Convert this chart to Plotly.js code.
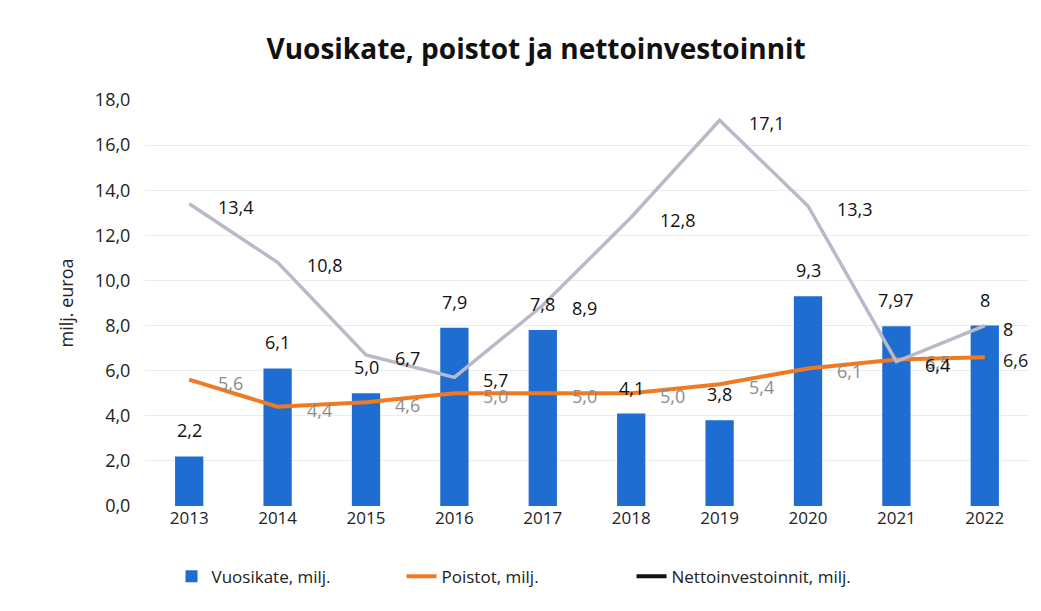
<!DOCTYPE html>
<html><head><meta charset="utf-8">
<script src="https://cdn.plot.ly/plotly-3.0.1.min.js"></script>
<style>html,body{margin:0;padding:0;background:#fff}#chart{width:1041px;height:611px}</style>
</head><body><div id="chart"></div>
<script>
const years = ['2013','2014','2015','2016','2017','2018','2019','2020','2021','2022'];
const vuosikate = [2.2, 6.1, 5.0, 7.9, 7.8, 4.1, 3.8, 9.3, 7.97, 8];
const vuosikateLabels = ['2,2','6,1','5,0','7,9','7,8','4,1','3,8','9,3','7,97','8'];
const poistot = [5.6, 4.4, 4.6, 5.0, 5.0, 5.0, 5.4, 6.1, 6.5, 6.6];
const poistotLabels = ['5,6','4,4','4,6','5,0','5,0','5,0','5,4','6,1','6,5','6,6'];
const netto = [13.4, 10.8, 6.7, 5.7, 8.9, 12.8, 17.1, 13.3, 6.4, 8];
const nettoLabels = ['13,4','10,8','6,7','5,7','8,9','12,8','17,1','13,3','6,4','8'];
const yTicks = [0,2,4,6,8,10,12,14,16,18];

const font = "Open Sans, Noto Sans, sans-serif";
const traces = [
  {type:'bar', x:years, y:vuosikate, name:'Vuosikate, milj.', marker:{color:'#1f6dd0'},
   width:0.32},
  {type:'scatter', mode:'lines', x:years, y:poistot, name:'Poistot, milj.',
   line:{color:'#f07a22',width:4}, cliponaxis:false},
  {type:'scatter', mode:'lines', x:years, y:netto, showlegend:false,
   line:{color:'#bab8c9',width:3.5}, cliponaxis:false},
  {type:'scatter', mode:'lines', x:years, y:netto.map(()=>null), name:'Nettoinvestoinnit, milj.',
   line:{color:'#111',width:4}}
];
const annotations = [];
const last = years.length - 1;
years.forEach((yr,i)=>{
  const sx = i === last ? 16 : 27;
  annotations.push({xref:'x', yref:'y', x:i, y:vuosikate[i], text:vuosikateLabels[i], showarrow:false,
    xanchor:'center', yanchor:'bottom', yshift:12, font:{size:18,color:'#111',family:font}});
  annotations.push({xref:'x', yref:'y', x:i, y:poistot[i], text:poistotLabels[i], showarrow:false,
    xanchor:'left', yanchor:'middle', xshift:sx, yshift:-3,
    font:{size:18,color: i===last ? '#222' : '#8c8c8c',family:font}});
  annotations.push({xref:'x', yref:'y', x:i, y:netto[i], text:nettoLabels[i], showarrow:false,
    xanchor:'left', yanchor:'middle', xshift:sx, yshift:-3,
    font:{size:18,color:'#111',family:font}});
});
const layout = {
  width:1041, height:611,
  margin:{l:145, r:12, t:100, b:105},
  paper_bgcolor:'#fff', plot_bgcolor:'#fff',
  separators:', ',
  annotations: annotations,
  title:{text:'<b>Vuosikate, poistot ja nettoinvestoinnit</b>', x:0.515, xanchor:'center', y:0.935,
    font:{size:28,color:'#111',family:font}},
  xaxis:{type:'category', categoryarray:years, range:[-0.5, years.length-0.5],
    tickfont:{size:17,color:'#222',family:font}, showgrid:false,
    showline:false, zeroline:false, ticks:''},
  yaxis:{range:[0,18], tickvals:yTicks, tickformat:'.1f', tickfont:{size:18,color:'#222',family:font},
    gridcolor:'#ececec', zeroline:false, showline:false, ticklen:10, ticks:'outside', tickcolor:'rgba(0,0,0,0)',
    title:{text:'milj. euroa', font:{size:18,color:'#222',family:font}, standoff:16}},
  legend:{orientation:'h', x:0.03, xanchor:'left', y:-0.13, yanchor:'top',
    font:{size:17,color:'#222',family:font}, entrywidth:185, entrywidthmode:'pixels', traceorder:'normal'},
  showlegend:true
};
Plotly.newPlot('chart', traces, layout, {displayModeBar:false, staticPlot:true});
</script></body></html>
